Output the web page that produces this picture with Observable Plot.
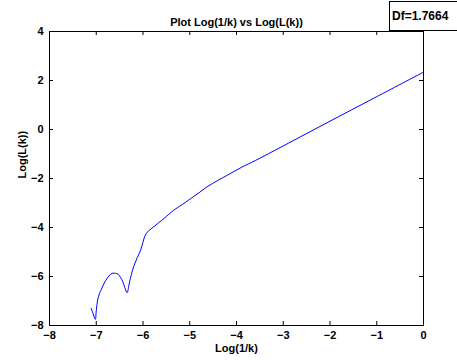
<!DOCTYPE html>
<html>
<head>
<meta charset="utf-8">
<script src="https://cdn.jsdelivr.net/npm/d3@7"></script>
<script src="https://cdn.jsdelivr.net/npm/@observablehq/plot@0.6"></script>
<style>
  html, body { margin: 0; padding: 0; background: #fff; }
  #wrap { position: relative; width: 457px; height: 360px; overflow: hidden; }
  #df {
    position: absolute; left: 389px; top: 1px; width: 80px; height: 28px;
    border: 1px solid #000; background: #fff; box-sizing: content-box;
    font: bold 12px "Liberation Sans", Arial, sans-serif; line-height: 28px;
    padding-left: 2px; color: #000;
  }
</style>
</head>
<body>
<div id="wrap"><div id="df">Df=1.7664</div></div>
<script>
// Data
const logInvK = [-7.11, -7.07, -7.02, -7.00, -6.97, -6.93, -6.89, -6.85, -6.80, -6.73, -6.66, -6.59, -6.53, -6.48, -6.43, -6.39, -6.34, -6.30, -6.27, -6.20, -6.12, -6.05, -5.95, -5.88, -5.77, -5.66, -5.55, -5.34, -5.15, -4.98, -4.80, -4.63, -4.40, -4.20, -3.90, -3.59, -3.00, -2.00, -1.00, 0.00];
const logL    = [-7.30, -7.50, -7.75, -7.40, -6.96, -6.69, -6.52, -6.35, -6.17, -5.98, -5.87, -5.87, -5.91, -6.04, -6.22, -6.45, -6.66, -6.35, -6.08, -5.60, -5.22, -4.92, -4.31, -4.14, -3.97, -3.80, -3.63, -3.29, -3.05, -2.82, -2.58, -2.34, -2.08, -1.87, -1.55, -1.26, -0.67, 0.34, 1.34, 2.34];
const xTicks = [-8, -7, -6, -5, -4, -3, -2, -1, 0];
const yTicks = [-8, -6, -4, -2, 0, 2, 4];
const titleText = "Plot Log(1/k) vs Log(L(k))";
const xLabel = "Log(1/k)";
const yLabel = "Log(L(k))";

const data = logInvK.map((x, i) => ({x, y: logL[i]}));

const W = 457, H = 360;
const mL = 49, mR = 34, mT = 31, mB = 35;
const pw = W - mL - mR, ph = H - mT - mB;
const tl = 4;

const chart = Plot.plot({
  width: W, height: H,
  marginLeft: mL, marginRight: mR, marginTop: mT, marginBottom: mB,
  style: {fontFamily: "'Liberation Sans', Arial, sans-serif", fontSize: "11px", fontWeight: "bold", background: "#fff", color: "#000"},
  x: {domain: [-8, 0]},
  y: {domain: [-8, 4]},
  marks: [
    Plot.line(data, {x: "x", y: "y", stroke: "#0000ff", strokeWidth: 1, curve: "catmull-rom"}),
    Plot.frame({stroke: "#000", strokeWidth: 1}),
    // inward ticks on all four sides
    Plot.tickX(xTicks, {x: d => d, insetTop: ph - tl, stroke: "#000"}),
    Plot.tickX(xTicks, {x: d => d, insetBottom: ph - tl, stroke: "#000"}),
    Plot.tickY(yTicks, {y: d => d, insetLeft: pw - tl, stroke: "#000"}),
    Plot.tickY(yTicks, {y: d => d, insetRight: pw - tl, stroke: "#000"}),
    Plot.axisX(xTicks, {tickSize: 0, tickPadding: 6, label: null, fontWeight: "bold"}),
    Plot.axisY(yTicks, {tickSize: 0, tickPadding: 6, label: null, fontWeight: "bold"}),
    Plot.text([titleText], {frameAnchor: "top", dy: -13, text: d => d, fontSize: 11, fontWeight: "bold"}),
    Plot.text([xLabel], {frameAnchor: "bottom", dy: 26, text: d => d, fontSize: 11, fontWeight: "bold"}),
    Plot.text([yLabel], {frameAnchor: "left", dx: -27, rotate: -90, text: d => d, fontSize: 11, fontWeight: "bold"})
  ]
});
document.getElementById("wrap").insertBefore(chart, document.getElementById("df"));
</script>
</body>
</html>
